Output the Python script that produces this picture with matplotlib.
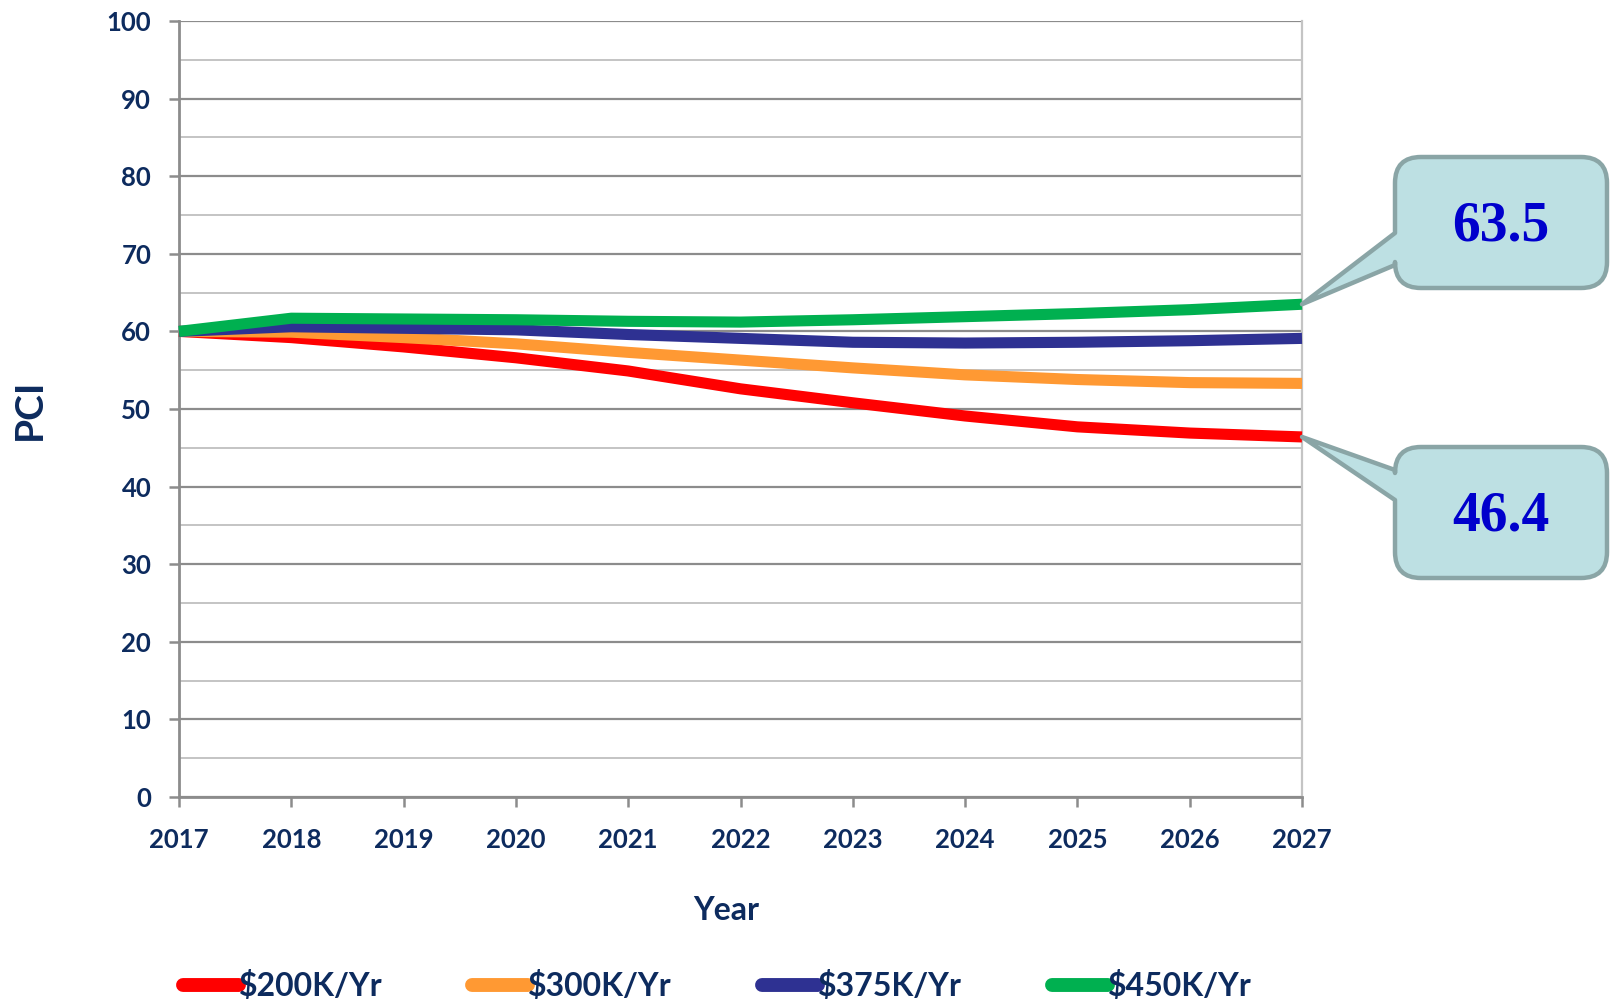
import numpy as np
import matplotlib
matplotlib.use("Agg")
import matplotlib.pyplot as plt
from matplotlib.path import Path
from matplotlib.patches import PathPatch
from matplotlib.ticker import MultipleLocator

# PCI forecast by annual budget
years = [2017, 2018, 2019, 2020, 2021, 2022, 2023, 2024, 2025, 2026, 2027]
pci_200k = [60.0, 59.2, 58.0, 56.6, 54.9, 52.6, 50.8, 49.1, 47.7, 46.9, 46.4]
pci_300k = [60.0, 59.9, 59.2, 58.4, 57.3, 56.3, 55.3, 54.4, 53.8, 53.4, 53.3]
pci_375k = [60.0, 60.6, 60.4, 60.2, 59.6, 59.1, 58.6, 58.5, 58.6, 58.8, 59.1]
pci_450k = [60.0, 61.7, 61.6, 61.5, 61.3, 61.2, 61.5, 61.9, 62.3, 62.8, 63.5]
labels = ["$200K/Yr", "$300K/Yr", "$375K/Yr", "$450K/Yr"]
colors = ["#ff0000", "#ff9933", "#2e3192", "#00b050"]

navy = "#0d2b5e"
tick_font = ["Lato", "DejaVu Sans"]

fig = plt.figure(figsize=(16.12, 10.05), dpi=100)
ax = fig.add_axes([179 / 1612, 1 - 797 / 1005, (1302 - 179) / 1612, (797 - 21) / 1005])

series = [pci_200k, pci_300k, pci_375k, pci_450k]
for vals, lab, col in zip(series, labels, colors):
    ax.plot(years, vals, color=col, lw=8, solid_capstyle="butt",
            label=lab.replace("$", r"\$"), clip_on=False, zorder=3)

ax.set_xlim(2017, 2027)
ax.set_ylim(0, 100)
ax.set_xticks(years)
ax.yaxis.set_major_locator(MultipleLocator(10))
ax.yaxis.set_minor_locator(MultipleLocator(5))
ax.grid(which="major", axis="y", color="#8c8c8c", lw=1.6)
ax.grid(which="minor", axis="y", color="#c4c4c4", lw=1.4)
ax.tick_params(axis="y", which="minor", length=0)
ax.tick_params(axis="y", which="major", length=7, width=1.8, color="#8c8c8c", pad=13)
ax.tick_params(axis="x", length=7, width=1.8, color="#8c8c8c", pad=15)

for side in ["left", "bottom"]:
    ax.spines[side].set_color("#8c8c8c")
    ax.spines[side].set_linewidth(2)
ax.spines["right"].set_color("#c4c4c4")
ax.spines["right"].set_linewidth(1.6)
ax.spines["top"].set_visible(False)

for lab in ax.get_xticklabels() + ax.get_yticklabels():
    lab.set_fontfamily(tick_font)
    lab.set_fontweight("bold")
    lab.set_fontsize(18.5)
    lab.set_color(navy)

ax.set_xlabel("Year", fontsize=23, fontweight="bold", color=navy, family=tick_font)
ax.xaxis.set_label_coords(0.487, -0.128)
ax.set_ylabel("PCI", fontsize=28, fontweight="bold", color=navy, family=tick_font)
ax.yaxis.set_label_coords(-0.118, 0.5)

leg = fig.legend(loc="center left", bbox_to_anchor=(170 / 1612, 1 - 986 / 1005),
                 ncol=4, frameon=False, handlelength=1.75, handletextpad=0.0,
                 columnspacing=2.82, borderaxespad=0,
                 prop={"family": tick_font, "weight": "bold", "size": 23})
for txt in leg.get_texts():
    txt.set_color(navy)
for h in leg.legend_handles:
    h.set_linewidth(10)
    h.set_solid_capstyle("round")


def callout(x, y, text, box, notch):
    """Rounded box with a wedge pointing at (x, y) in data coords."""
    tx, ty = ax.transData.transform((x, y))
    x0, y0, x1, y1 = box
    n_lo, n_hi = notch
    r = 26
    verts = [
        (x0, y0 + r), (x0, n_lo), (tx, ty), (x0, n_hi), (x0, y1 - r),
        (x0, y1), (x0 + r, y1), (x1 - r, y1),
        (x1, y1), (x1, y1 - r), (x1, y0 + r),
        (x1, y0), (x1 - r, y0), (x0 + r, y0),
        (x0, y0), (x0, y0 + r), (x0, y0 + r),
    ]
    codes = [Path.MOVETO, Path.LINETO, Path.LINETO, Path.LINETO, Path.LINETO,
             Path.CURVE3, Path.CURVE3, Path.LINETO,
             Path.CURVE3, Path.CURVE3, Path.LINETO,
             Path.CURVE3, Path.CURVE3, Path.LINETO,
             Path.CURVE3, Path.CURVE3, Path.CLOSEPOLY]
    patch = PathPatch(Path(verts, codes), facecolor="#bde0e3", edgecolor="#8aa5a6",
                      lw=3.2, joinstyle="round", transform=None, zorder=5)
    fig.add_artist(patch)
    fig.text(((x0 + x1) / 2) / 1612, ((y0 + y1) / 2 - 4) / 1005, text,
             ha="center", va="center", fontsize=40, fontweight="bold",
             color="#0000cc", family=["Liberation Serif", "DejaVu Serif"], zorder=6)


callout(years[-1], pci_450k[-1], f"{pci_450k[-1]:.1f}",
        (1395, 1005 - 288, 1607, 1005 - 157), (1005 - 265, 1005 - 233))
callout(years[-1], pci_200k[-1], f"{pci_200k[-1]:.1f}",
        (1395, 1005 - 578, 1607, 1005 - 447), (1005 - 500, 1005 - 470))

fig.savefig("out.png", dpi=100)
